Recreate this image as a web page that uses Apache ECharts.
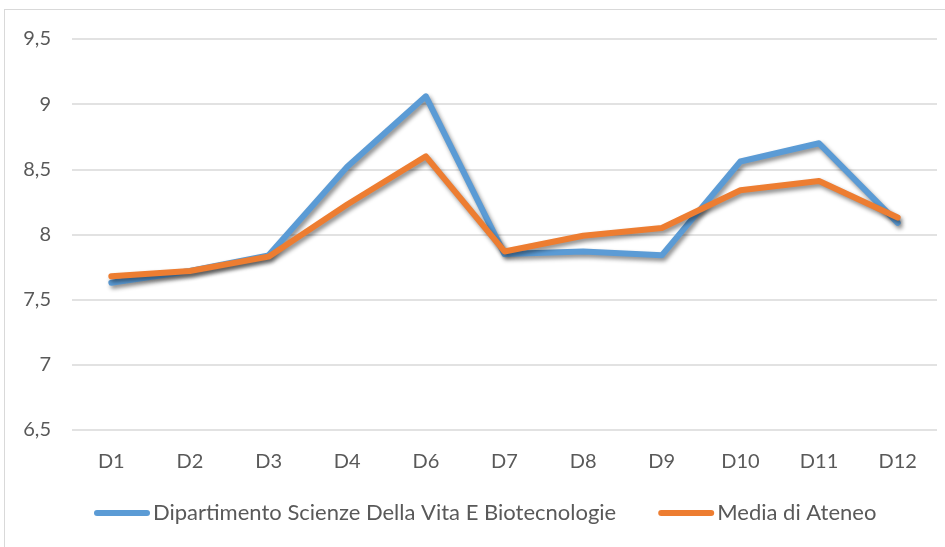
<!DOCTYPE html>
<html>
<head>
<meta charset="utf-8">
<script src="https://cdn.jsdelivr.net/npm/echarts@6/dist/echarts.min.js"></script>
<style>
  html, body { margin: 0; padding: 0; background: #fff; overflow: hidden; }
  #frame { position: absolute; left: 4px; top: 9px; width: 1000px; height: 600px; border: 1px solid #d9d9d9; }
  #chart { position: absolute; left: 0; top: 0; width: 945px; height: 547px; }
</style>
</head>
<body>
<div id="frame"></div>
<div id="chart"></div>
<script>
const categories = ['D1', 'D2', 'D3', 'D4', 'D6', 'D7', 'D8', 'D9', 'D10', 'D11', 'D12']
const dipartimento = [7.63, 7.72, 7.84, 8.52, 9.06, 7.85, 7.87, 7.84, 8.56, 8.70, 8.09]
const mediaAteneo = [7.68, 7.72, 7.83, 8.23, 8.60, 7.87, 7.99, 8.05, 8.34, 8.41, 8.13]
const seriesNames = ['Dipartimento Scienze Della Vita E Biotecnologie', 'Media di Ateneo']
const colors = ['#5b9bd5', '#ed7d31']

const textColor = '#595959'
const font = 'Lato, "Open Sans", sans-serif'

const chart = echarts.init(document.getElementById('chart'))

// linea spessa con ombra, come in Excel
const lineSeries = (name, data, color) => ({
  name: name,
  type: 'line',
  data: data,
  symbol: 'none',
  color: color,
  lineStyle: {
    width: 6,
    color: color,
    cap: 'round',
    join: 'round',
    shadowColor: 'rgba(0,0,0,0.45)',
    shadowBlur: 4,
    shadowOffsetX: 2,
    shadowOffsetY: 3
  },
  emphasis: { disabled: true }
})

chart.setOption({
  animation: false,
  grid: { left: 72, right: 8, top: 39, bottom: 117 },
  legend: {
    left: 94,
    top: 502,
    padding: 0,
    itemGap: 42,
    itemWidth: 56,
    itemHeight: 6,
    icon: 'path://M3,0 H53 A3,3 0 0 1 53,6 H3 A3,3 0 0 1 3,0 Z',
    textStyle: { color: textColor, fontFamily: font, fontSize: 22, padding: [0, 0, 0, -2] },
    data: seriesNames
  },
  xAxis: {
    type: 'category',
    data: categories,
    boundaryGap: true,
    axisLine: { show: false },
    axisTick: { show: false },
    axisLabel: { color: textColor, fontFamily: font, fontSize: 20, margin: 22 }
  },
  yAxis: {
    type: 'value',
    min: 6.5,
    max: 9.5,
    interval: 0.5,
    axisLine: { show: false },
    axisTick: { show: false },
    axisLabel: {
      color: textColor,
      fontFamily: font,
      fontSize: 20,
      margin: 21,
      formatter: v => String(v).replace('.', ',')
    },
    splitLine: { lineStyle: { color: '#d9d9d9', width: 1.5 } }
  },
  series: [
    lineSeries(seriesNames[0], dipartimento, colors[0]),
    lineSeries(seriesNames[1], mediaAteneo, colors[1])
  ]
})

window.addEventListener('resize', () => {
  chart.resize()
})
</script>
</body>
</html>
